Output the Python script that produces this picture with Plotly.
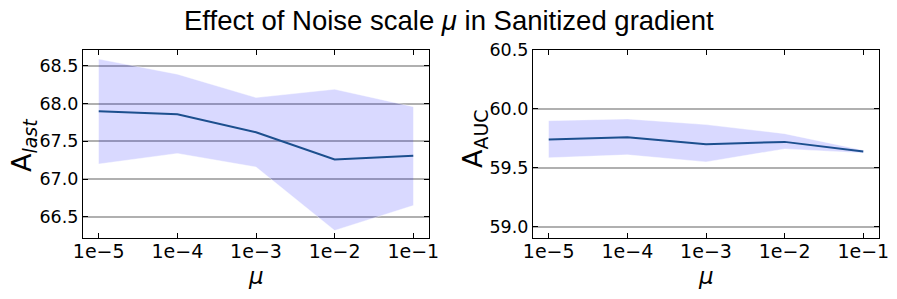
import plotly.graph_objects as go

mu_labels = ["1e\u22125", "1e\u22124", "1e\u22123", "1e\u22122", "1e\u22121"]
x_idx = [0, 1, 2, 3, 4]

last_mean = [67.90, 67.86, 67.62, 67.26, 67.31]
last_upper = [68.59, 68.39, 68.08, 68.19, 67.96]
last_lower = [67.20, 67.34, 67.16, 66.32, 66.65]

auc_mean = [59.74, 59.76, 59.70, 59.72, 59.638]
auc_upper = [59.90, 59.915, 59.867, 59.79, 59.65]
auc_lower = [59.585, 59.61, 59.55, 59.66, 59.626]

LINE = "#1c4f8e"
FILL = "rgba(0,0,255,0.15)"
EDGE = "rgba(255,255,255,0.5)"

fig = go.Figure()

def add_panel(mean, upper, lower, xa, ya):
    fig.add_trace(go.Scatter(x=x_idx, y=upper, mode="lines", line=dict(color=EDGE, width=0.8),
                             showlegend=False, xaxis=xa, yaxis=ya, hoverinfo="skip"))
    fig.add_trace(go.Scatter(x=x_idx, y=lower, mode="lines", line=dict(color=EDGE, width=0.8),
                             fill="tonexty", fillcolor=FILL,
                             showlegend=False, xaxis=xa, yaxis=ya, hoverinfo="skip"))
    fig.add_trace(go.Scatter(x=x_idx, y=mean, mode="lines", line=dict(color=LINE, width=2),
                             showlegend=False, xaxis=xa, yaxis=ya))

add_panel(last_mean, last_upper, last_lower, "x", "y")
add_panel(auc_mean, auc_upper, auc_lower, "x2", "y2")

W, H = 897, 299
OFF = 8  # page body margin offset
def px_x(v):
    return (v - OFF) / W
def px_y(v):
    return (H - (v - OFF)) / H

xtickfont = dict(family="DejaVu Sans", size=19, color="black")
ytickfont = dict(family="DejaVu Sans", size=17.5, color="black")
common_x = dict(range=[-0.2, 4.2], tickvals=x_idx, ticktext=mu_labels, ticks="inside",
                ticklen=5, tickwidth=1, tickcolor="black", showline=True, linecolor="black",
                linewidth=1.3, mirror="ticks", showgrid=False, zeroline=False,
                tickfont=xtickfont, automargin=False, ticklabelstandoff=-4)
common_y = dict(ticks="inside", ticklen=5, tickwidth=1, tickcolor="black", showline=True,
                linecolor="black", linewidth=1.3, mirror="ticks", showgrid=True,
                gridcolor="#b0b0b0", gridwidth=1.5, zeroline=False, tickfont=ytickfont,
                tickformat=".1f", automargin=False)

fig.update_layout(
    width=W, height=H,
    margin=dict(l=0, r=0, t=0, b=0, autoexpand=False),
    paper_bgcolor="white", plot_bgcolor="white",
    xaxis=dict(domain=[px_x(83), px_x(429)], anchor="y", **common_x),
    yaxis=dict(domain=[px_y(238), px_y(50)], anchor="x", range=[66.22, 68.71],
               tickvals=[66.5, 67.0, 67.5, 68.0, 68.5], **common_y),
    xaxis2=dict(domain=[px_x(533), px_x(879)], anchor="y2", **common_x),
    yaxis2=dict(domain=[px_y(238), px_y(50)], anchor="x2", range=[58.904, 60.5],
                tickvals=[59.0, 59.5, 60.0, 60.5], **common_y),
)

annotations = [
    dict(text="Effect of Noise scale <i>\u03bc</i> in Sanitized gradient", x=px_x(449), y=px_y(21),
         xref="paper", yref="paper", showarrow=False, xanchor="center", yanchor="middle",
         font=dict(family="Liberation Sans, Arial", size=27.5, color="black")),
    dict(text="<i>\u03bc</i>", x=px_x(256), y=px_y(276), xref="paper", yref="paper",
         showarrow=False, xanchor="center", yanchor="middle",
         font=dict(family="DejaVu Sans", size=23, color="black")),
    dict(text="<i>\u03bc</i>", x=px_x(706), y=px_y(276), xref="paper", yref="paper",
         showarrow=False, xanchor="center", yanchor="middle",
         font=dict(family="DejaVu Sans", size=23, color="black")),
    dict(text="A<sub><i>last</i></sub>", x=px_x(23), y=px_y(146), xref="paper", yref="paper",
         showarrow=False, xanchor="center", yanchor="middle", textangle=-90,
         font=dict(family="DejaVu Sans", size=27, color="black")),
    dict(text="A<sub>AUC</sub>", x=px_x(474), y=px_y(139), xref="paper", yref="paper",
         showarrow=False, xanchor="center", yanchor="middle", textangle=-90,
         font=dict(family="DejaVu Sans", size=27, color="black")),
]
fig.update_layout(annotations=annotations)

fig.write_html("out.html")
